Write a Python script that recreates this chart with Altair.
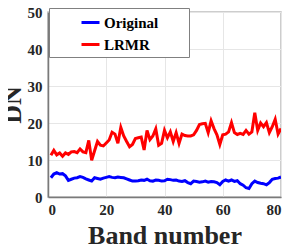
import altair as alt
import pandas as pd

bands = list(range(1, 81))
original = [5.2, 6.2, 6.6, 6.2, 6.3, 5.7, 4.5, 4.8, 5.1, 5.2,
            5.5, 5.3, 4.9, 4.6, 4.3, 5.2, 5.0, 4.8, 5.1, 5.3,
            5.5, 5.3, 5.2, 5.4, 5.3, 5.2, 4.9, 4.6, 4.3, 4.3,
            4.4, 4.6, 4.5, 4.8, 4.4, 4.3, 4.6, 4.5, 4.3, 4.4,
            4.8, 4.7, 4.5, 4.6, 4.3, 4.2, 4.4, 3.9, 3.6, 4.3,
            4.2, 4.0, 4.1, 4.3, 4.0, 4.2, 4.1, 3.9, 3.3, 4.2,
            4.6, 4.3, 4.6, 4.2, 4.4, 3.6, 3.2, 2.5, 2.3, 3.6,
            4.3, 3.9, 3.7, 3.6, 3.3, 3.9, 4.8, 5.0, 5.1, 5.4]
lrmr = [11.3, 12.6, 11.4, 11.9, 11.0, 11.9, 11.5, 12.2, 12.3, 12.0,
        13.0, 12.2, 12.0, 15.3, 9.9, 12.5, 15.0, 14.0, 13.8, 14.6,
        15.4, 17.5, 17.0, 14.5, 18.8, 16.5, 15.0, 13.6, 14.2, 15.8,
        16.0, 16.2, 12.7, 18.0, 15.5, 16.5, 18.4, 14.0, 14.5, 18.0,
        16.0, 17.6, 15.0, 17.4, 14.5, 17.0, 16.6, 16.5, 16.5, 16.8,
        18.0, 19.6, 19.8, 19.9, 17.4, 20.6, 18.5, 16.8, 14.2, 16.8,
        17.0, 17.6, 20.1, 17.4, 16.9, 17.2, 16.9, 18.0, 17.0, 17.6,
        22.8, 18.0, 20.0, 19.0, 20.1, 17.4, 19.0, 21.0, 17.0, 18.5]
series_names = ["Original", "LRMR"]
series_colors = ["#0000ff", "#ff0000"]
x_ticks = [0, 20, 40, 60, 80]
y_ticks = [0, 10, 20, 30, 40, 50]

df = pd.concat([
    pd.DataFrame({"band": bands, "dn": original, "series": "Original"}),
    pd.DataFrame({"band": bands, "dn": lrmr, "series": "LRMR"}),
])

font = "Times New Roman, Liberation Serif, serif"
pad = "\u00a0" * 7 + "\u200b"

chart = alt.Chart(df).mark_line(strokeWidth=3, clip=True).encode(
    x=alt.X("band:Q", title="Band number",
            scale=alt.Scale(domain=[0, 80], nice=False),
            axis=alt.Axis(values=x_ticks, format="d")),
    y=alt.Y("dn:Q", title="DN",
            scale=alt.Scale(domain=[0, 50], nice=False),
            axis=alt.Axis(values=y_ticks, format="d")),
    color=alt.Color("series:N",
                    scale=alt.Scale(domain=series_names, range=series_colors),
                    legend=alt.Legend(title=None, orient="none", legendX=1, legendY=-4,
                                      symbolType="stroke", symbolSize=324,
                                      symbolStrokeWidth=3, symbolOffset=27,
                                      labelFont=font, labelFontSize=15,
                                      labelFontWeight="bold", labelColor="#000000",
                                      labelOffset=3, rowPadding=3, padding=4,
                                      labelLimit=300,
                                      labelExpr="datum.label + '" + pad + "'",
                                      strokeColor="#808080", fillColor="#ffffff")),
    order=alt.Order("band:Q"),
).properties(
    width=233, height=185,
    padding={"left": 40, "top": 4, "right": 2, "bottom": 50},
    autosize=alt.AutoSizeParams(type="none"),
).configure_view(
    stroke="#bdbdbd", strokeWidth=1.5
).configure_axis(
    labelFont=font, labelFontSize=15, labelFontWeight="bold", labelColor="#262626",
    titleFont=font, titleFontSize=26, titleFontWeight="bold", titleColor="#262626",
    domainColor="#7a7a7a", domainWidth=1.5, tickSize=0,
    gridColor="#e6e6e6", gridWidth=1, labelPadding=5,
).configure_axisX(
    titlePadding=5
).configure_axisY(
    titlePadding=2, labelPadding=6
)

chart.save("out.html", embed_options={"renderer": "svg", "actions": False})
